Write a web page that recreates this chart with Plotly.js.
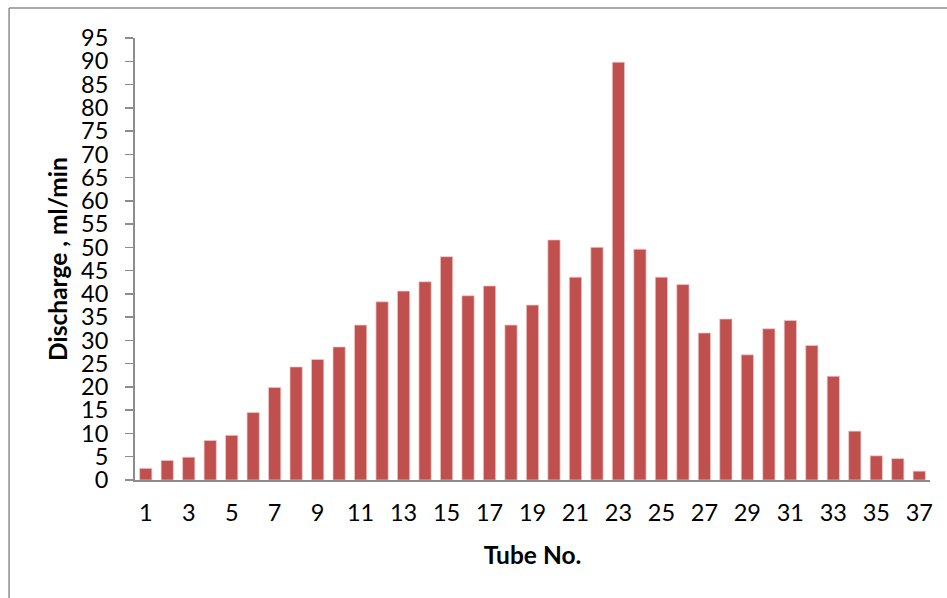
<!DOCTYPE html>
<html>
<head>
<meta charset="utf-8">
<script src="https://cdn.plot.ly/plotly-3.0.1.min.js"></script>
<style>
  html, body { margin: 0; padding: 0; background: #ffffff; }
  #chart { width: 947px; height: 598px; }
</style>
</head>
<body>
<div id="chart"></div>
<script>
const tubeNo = [1,2,3,4,5,6,7,8,9,10,11,12,13,14,15,16,17,18,19,20,21,22,23,24,25,26,27,28,29,30,31,32,33,34,35,36,37];
const discharge = [2.5,4.2,4.9,8.5,9.6,14.5,19.9,24.3,25.9,28.6,33.3,38.3,40.6,42.6,48.0,39.6,41.7,33.3,37.6,51.6,43.6,50.0,89.8,49.6,43.6,42.0,31.6,34.6,26.9,32.5,34.3,28.9,22.3,10.5,5.2,4.6,1.9];
const xTickVals = [1,3,5,7,9,11,13,15,17,19,21,23,25,27,29,31,33,35,37];
const yTickVals = [0,5,10,15,20,25,30,35,40,45,50,55,60,65,70,75,80,85,90,95];
const xTitle = "Tube No.";
const yTitle = "Discharge , ml/min";

const trace = {
  type: 'bar',
  x: tubeNo,
  y: discharge,
  marker: { color: '#C0504D', line: { color: 'rgba(240,200,200,0.9)', width: 0.8 } },
  hoverinfo: 'x+y'
};

const layout = {
  width: 947,
  height: 598,
  margin: { l: 135, r: 16.5, t: 38, b: 118, pad: 0 },
  paper_bgcolor: '#ffffff',
  plot_bgcolor: '#ffffff',
  font: { family: 'Lato, "Open Sans", sans-serif', color: '#000000', size: 23.5 },
  bargap: 0.43,
  showlegend: false,
  xaxis: {
    range: [0.5, 37.5],
    tickmode: 'array',
    tickvals: xTickVals,
    ticktext: xTickVals.map(String),
    ticks: '',
    showgrid: false,
    zeroline: false,
    showline: true,
    linecolor: '#8c8c8c',
    linewidth: 2,
    tickfont: { size: 23.5, family: 'Lato, sans-serif', color: '#000' },
    ticklabelstandoff: 11,
    automargin: false,
    title: { text: xTitle, font: { size: 24.5, family: 'Lato, sans-serif', weight: 'bold', color: '#000' }, standoff: 22 }
  },
  yaxis: {
    range: [0, 95],
    tickmode: 'array',
    tickvals: yTickVals,
    ticktext: yTickVals.map(String),
    ticks: 'outside',
    ticklen: 8,
    tickwidth: 1.5,
    tickcolor: '#8c8c8c',
    showgrid: false,
    zeroline: false,
    showline: true,
    linecolor: '#8c8c8c',
    linewidth: 2,
    tickfont: { size: 23.5, family: 'Lato, sans-serif', color: '#000' },
    ticklabelstandoff: 12,
    automargin: false,
    title: { text: yTitle, font: { size: 24.5, family: 'Lato, sans-serif', weight: 'bold', color: '#000' }, standoff: 6 }
  },
  shapes: [
    { type: 'line', xref: 'paper', yref: 'paper',
      x0: (9 - 135) / 795.5, x1: (960 - 135) / 795.5,
      y0: (480 - 8) / 442, y1: (480 - 8) / 442,
      line: { color: '#8c8c8c', width: 1.5 } },
    { type: 'line', xref: 'paper', yref: 'paper',
      x0: (9 - 135) / 795.5, x1: (9 - 135) / 795.5,
      y0: (480 - 8) / 442, y1: (480 - 610) / 442,
      line: { color: '#8c8c8c', width: 1.5 } }
  ]
};

Plotly.newPlot('chart', [trace], layout, { displayModeBar: false, staticPlot: true });
</script>
</body>
</html>
